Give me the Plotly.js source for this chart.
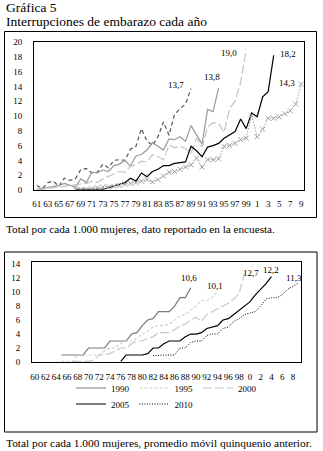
<!DOCTYPE html>
<html>
<head>
<meta charset="utf-8">
<script src="https://cdn.plot.ly/plotly-3.0.1.min.js"></script>
<style>html,body{margin:0;padding:0;background:#fff;}#chart{width:323px;height:451px;}</style>
</head>
<body>
<div id="chart"></div>
<script>
// ---------- categories ----------
const yearsTop = ["1961","1962","1963","1964","1965","1966","1967","1968","1969","1970","1971","1972","1973","1974","1975","1976","1977","1978","1979","1980","1981","1982","1983","1984","1985","1986","1987","1988","1989","1990","1991","1992","1993","1994","1995","1996","1997","1998","1999","2000","2001","2002","2003","2004","2005","2006","2007","2008","2009"];
const tickValsTop = ["1961","1963","1965","1967","1969","1971","1973","1975","1977","1979","1981","1983","1985","1987","1989","1991","1993","1995","1997","1999","2001","2003","2005","2007","2009"];
const tickTextTop = ["61","63","65","67","69","71","73","75","77","79","81","83","85","87","89","91","93","95","97","99","1","3","5","7","9"];

const yearsBot = ["1960","1961","1962","1963","1964","1965","1966","1967","1968","1969","1970","1971","1972","1973","1974","1975","1976","1977","1978","1979","1980","1981","1982","1983","1984","1985","1986","1987","1988","1989","1990","1991","1992","1993","1994","1995","1996","1997","1998","1999","2000","2001","2002","2003","2004","2005","2006","2007","2008","2009"];
const tickValsBot = ["1960","1962","1964","1966","1968","1970","1972","1974","1976","1978","1980","1982","1984","1986","1988","1990","1992","1994","1996","1998","2000","2002","2004","2006","2008"];
const tickTextBot = ["60","62","64","66","68","70","72","74","76","78","80","82","84","86","88","90","92","94","96","98","0","2","4","6","8"];

// ---------- top chart: reported value per survey ----------
const top1990Start = "1961";
const top1990 = [0.6,0.2,1.0,1.2,0.5,1.6,1.3,1.5,2.8,2.9,2.3,2.4,3.5,3.0,4.0,4.1,4.0,5.5,5.9,8.3,6.6,6.0,7.2,9.2,7.4,10.2,11.0,11.6,13.7];
const top1995Start = "1961";
const top1995 = [0.1,0.2,0.3,0.5,0.6,0.9,0.7,0.4,1.5,1.0,2.4,2.3,2.7,2.5,3.3,3.5,4.0,3.2,4.6,4.8,5.4,6.4,5.9,5.4,6.9,6.8,7.2,6.6,8.7,7.4,6.2,10.9,10.6,13.8];
const top2000Start = "1961";
const top2000 = [0.0,0.1,0.2,0.3,0.3,0.4,0.5,0.6,0.8,0.9,1.2,1.0,1.5,1.8,2.2,2.5,2.4,3.2,3.4,3.9,3.8,4.8,4.5,4.1,6.1,5.7,5.9,5.6,5.0,7.0,5.8,8.5,9.1,9.0,7.8,11.0,12.0,14.5,19.0];
const top2005Start = "1968";
const top2005 = [0.1,0.1,0.1,0.1,0.1,0.1,0.3,0.5,0.7,1.0,1.6,1.2,2.3,1.8,2.5,2.8,3.3,3.3,3.6,3.7,3.8,5.9,5.3,4.5,5.8,6.0,6.3,7.0,7.4,7.9,9.6,8.3,10.4,9.9,12.6,13.3,18.2];
const top2010Start = "1968";
const top2010 = [0.1,0.1,0.1,0.2,0.3,0.4,0.4,0.5,0.6,0.8,0.9,1.0,1.2,1.4,1.1,1.4,1.9,2.4,2.5,2.8,3.1,3.4,4.3,3.1,4.1,4.1,4.2,5.9,6.0,6.3,6.8,7.0,10.1,7.2,8.2,9.7,9.7,9.9,10.3,10.7,11.6,14.3];

// ---------- bottom chart: 5-year moving average per survey ----------
const seriesNames = ["1990","1995","2000","2005","2010"];
const bot1990Start = "1965";
const bot1990 = [1.0,1.0,1.0,1.0,1.0,2.0,2.0,2.0,2.0,3.0,3.0,3.0,3.0,4.0,4.2,5.2,6.0,6.2,7.2,7.2,7.2,8.0,9.2,9.2,10.6];
const bot1995Start = "1965";
const bot1995 = [0.1,0.1,0.1,1.0,1.0,1.0,1.0,1.0,1.6,2.0,2.0,2.6,3.0,3.0,3.4,4.0,4.4,5.0,5.2,5.2,5.4,6.0,6.6,6.8,7.4,8.0,8.8,8.8,9.2,10.1];
const bot2000Start = "1967";
const bot2000 = [0.1,0.1,0.1,0.1,0.3,1.0,1.0,1.2,1.6,2.0,2.0,2.6,3.0,3.0,3.4,3.6,4.2,4.2,4.2,4.6,5.2,5.4,6.0,6.4,5.8,6.8,7.2,7.6,8.0,8.4,9.0,9.8,12.7];
const bot2005Start = "1976";
const bot2005 = [0.1,1.0,1.0,1.0,1.0,1.2,2.0,2.0,2.6,3.0,3.0,3.0,3.6,4.0,4.0,4.2,4.8,5.0,5.2,6.0,6.2,6.8,7.4,8.0,8.6,9.6,10.4,11.2,12.2];
const bot2010Start = "1982";
const bot2010 = [0.9,1.0,1.0,1.0,1.0,2.0,2.0,2.8,3.0,3.0,3.8,4.0,4.0,4.8,5.0,5.8,6.2,6.8,7.0,7.2,8.0,9.0,9.2,9.2,9.6,10.4,10.8,11.3];

// ---------- helpers ----------
function xs(years, start, vals){ const i = years.indexOf(start); return years.slice(i, i + vals.length); }
function lastIndex(years, start, vals){ return years.indexOf(start) + vals.length - 1; }
function lastLabel(v){ return v[v.length-1].toFixed(1).replace('.', ','); }

const FONT = "Liberation Serif, Times New Roman, serif";
const W = 323, H = 451;
const px = v => v / W;
const py = v => 1 - v / H;

const traces = [
  {x: xs(yearsTop, top1990Start, top1990), y: top1990, xaxis:'x', yaxis:'y', mode:'lines', showlegend:false,
   line:{color:'#555555', width:1.2, dash:'4px,3px'}},
  {x: xs(yearsTop, top1995Start, top1995), y: top1995, xaxis:'x', yaxis:'y', mode:'lines', showlegend:false,
   line:{color:'#9a9a9a', width:1.2}},
  {x: xs(yearsTop, top2000Start, top2000), y: top2000, xaxis:'x', yaxis:'y', mode:'lines', showlegend:false,
   line:{color:'#c4c4c4', width:1.2, dash:'9px,3px'}},
  {x: xs(yearsTop, top2005Start, top2005), y: top2005, xaxis:'x', yaxis:'y', mode:'lines', showlegend:false,
   line:{color:'#000000', width:1.2}},
  {x: xs(yearsTop, top2010Start, top2010), y: top2010, xaxis:'x', yaxis:'y', mode:'lines+markers', showlegend:false,
   line:{color:'#a0a0a0', width:1, dash:'1.5px,1.5px'},
   marker:{symbol:'x-thin', size:5, line:{width:1, color:'#a0a0a0'}}},

  {x: xs(yearsBot, bot1990Start, bot1990), y: bot1990, xaxis:'x2', yaxis:'y2', mode:'lines', name: seriesNames[0], legend:'legend',
   line:{color:'#7a7a7a', width:1.2}},
  {x: xs(yearsBot, bot1995Start, bot1995), y: bot1995, xaxis:'x2', yaxis:'y2', mode:'lines', name: seriesNames[1], legend:'legend',
   line:{color:'#cfcfcf', width:1.1, dash:'3px,2px'}},
  {x: xs(yearsBot, bot2000Start, bot2000), y: bot2000, xaxis:'x2', yaxis:'y2', mode:'lines', name: seriesNames[2], legend:'legend',
   line:{color:'#c8c8c8', width:1.2, dash:'9px,3px'}},
  {x: xs(yearsBot, bot2005Start, bot2005), y: bot2005, xaxis:'x2', yaxis:'y2', mode:'lines', name: seriesNames[3], legend:'legend2',
   line:{color:'#000000', width:1.2}},
  {x: xs(yearsBot, bot2010Start, bot2010), y: bot2010, xaxis:'x2', yaxis:'y2', mode:'lines', name: seriesNames[4], legend:'legend2',
   line:{color:'#000000', width:1, dash:'1px,1.5px'}}
];

const tickFont = {family: FONT, size: 9, color:'#000'};
const axisBase = {showline:true, mirror:true, linecolor:'#000', linewidth:1, showgrid:false, zeroline:false,
  ticks:'', tickfont: tickFont, fixedrange:true};

function endAnn(xref, yref, years, start, vals, xshift, yshift){
  return {xref, yref, x: lastIndex(years, start, vals), y: vals[vals.length-1], text: lastLabel(vals), showarrow:false,
    xshift, yshift, font:{family: FONT, size:9, color:'#000'}};
}

const annotations = [
  {xref:'paper', yref:'paper', x:px(4), y:py(7.5), xanchor:'left', yanchor:'middle', showarrow:false,
   text:'Gráfica 5', font:{family:FONT, size:13.5, color:'#000'}},
  {xref:'paper', yref:'paper', x:px(4), y:py(21.5), xanchor:'left', yanchor:'middle', showarrow:false,
   text:'Interrupciones de embarazo cada año', font:{family:FONT, size:13.5, color:'#000'}},
  {xref:'paper', yref:'paper', x:px(4), y:py(229), xanchor:'left', yanchor:'middle', showarrow:false,
   text:'Total por cada 1.000 mujeres, dato reportado en la encuesta.', font:{family:FONT, size:11.2, color:'#000'}},
  {xref:'paper', yref:'paper', x:px(4), y:py(443), xanchor:'left', yanchor:'middle', showarrow:false,
   text:'Total por cada 1.000 mujeres, promedio móvil quinquenio anterior.', font:{family:FONT, size:11.4, color:'#000'}},
  endAnn('x','y', yearsTop, top1990Start, top1990, -15, 4),
  endAnn('x','y', yearsTop, top1995Start, top1995, -7, 11),
  endAnn('x','y', yearsTop, top2000Start, top2000, -17, -4),
  endAnn('x','y', yearsTop, top2005Start, top2005, 14, 1),
  endAnn('x','y', yearsTop, top2010Start, top2010, -14, 1),
  endAnn('x2','y2', yearsBot, bot1990Start, bot1990, -2, 10),
  endAnn('x2','y2', yearsBot, bot1995Start, bot1995, -3, 5),
  endAnn('x2','y2', yearsBot, bot2000Start, bot2000, 6, 0),
  endAnn('x2','y2', yearsBot, bot2005Start, bot2005, 0, 7),
  endAnn('x2','y2', yearsBot, bot2010Start, bot2010, -4, 5)
];

const legendBase = {orientation:'h', xanchor:'left', yanchor:'middle',
  font:{family:FONT, size:9, color:'#000'}, bgcolor:'rgba(0,0,0,0)', itemwidth:30, tracegroupgap:0};

const layout = {
  width: W, height: H,
  margin:{l:0, r:0, t:0, b:0},
  paper_bgcolor:'#fff', plot_bgcolor:'#fff',
  font:{family: FONT, size: 9, color:'#000'},
  xaxis: Object.assign({}, axisBase, {domain:[px(34), px(304)], anchor:'y', type:'category',
    categoryorder:'array', categoryarray: yearsTop, range:[-0.5, yearsTop.length - 0.5],
    tickmode:'array', tickvals: tickValsTop, ticktext: tickTextTop, tickangle:0, ticklabelstandoff: 5}),
  yaxis: Object.assign({}, axisBase, {domain:[py(190), py(42)], anchor:'x', range:[0, 20], dtick:2,
    tick0:0, ticklabelstandoff: 9}),
  xaxis2: Object.assign({}, axisBase, {domain:[px(32), px(301)], anchor:'y2', type:'category',
    categoryorder:'array', categoryarray: yearsBot, range:[-0.5, yearsBot.length - 0.5],
    tickmode:'array', tickvals: tickValsBot, ticktext: tickTextBot, tickangle:0, ticklabelstandoff: 6}),
  yaxis2: Object.assign({}, axisBase, {domain:[py(362), py(262)], anchor:'x2', range:[0, 14.3], dtick:2,
    tick0:0, ticklabelstandoff: 9}),
  legend: Object.assign({}, legendBase, {x: px(71), y: py(388)}),
  legend2: Object.assign({}, legendBase, {x: px(71), y: py(404)}),
  shapes: [
    {type:'rect', xref:'paper', yref:'paper', x0:px(4.5), x1:px(316.5), y0:py(217.5), y1:py(31.5),
     line:{color:'#000', width:1}},
    {type:'rect', xref:'paper', yref:'paper', x0:px(4.5), x1:px(317), y0:py(432), y1:py(252),
     line:{color:'#000', width:1}}
  ],
  annotations: annotations
};

Plotly.newPlot('chart', traces, layout, {staticPlot:true, displayModeBar:false});
</script>
</body>
</html>
